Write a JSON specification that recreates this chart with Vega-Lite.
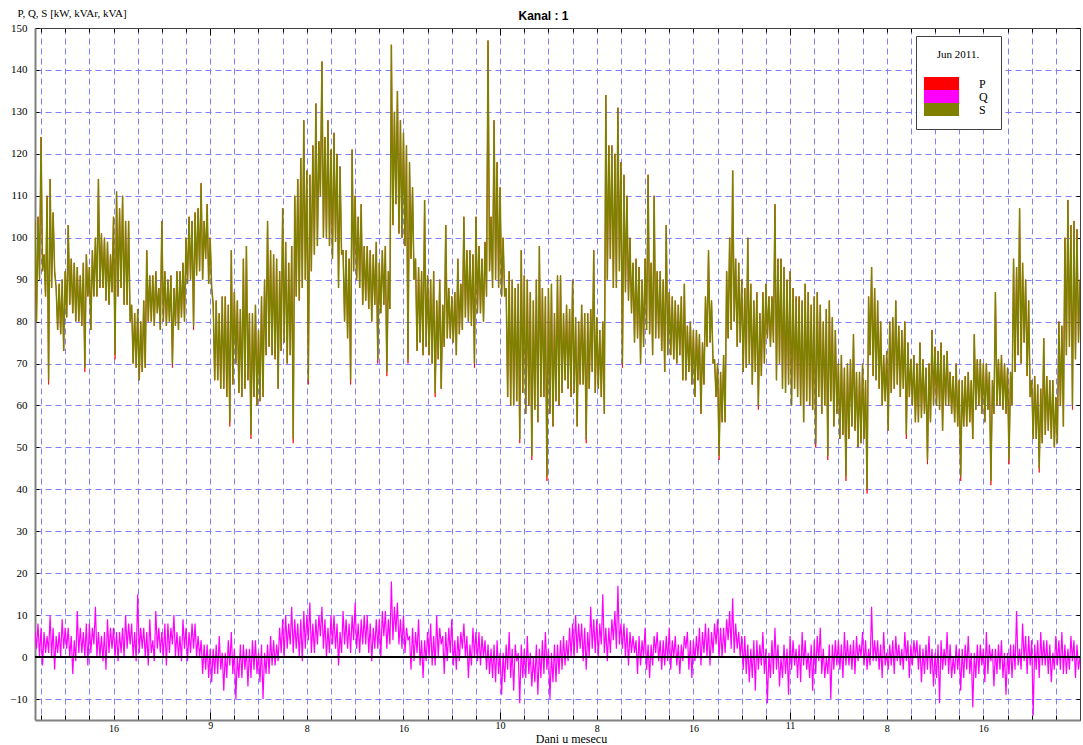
{
"$schema": "https://vega.github.io/schema/vega-lite/v6.json",
"width": 1045, "height": 692,
"autosize": "none",
"padding": {"left": 35, "top": 28, "right": 3, "bottom": 25},
"background": "white",
"title": {"text": "Kanal : 1", "font": "Liberation Sans", "fontSize": 12, "fontWeight": "bold", "anchor": "middle", "dx": -14, "offset": 0, "dy": 16, "color": "black"},
"config": {"view": {"stroke": null}, "font": "Liberation Serif"},
"data": {"values": [
{"i":0,"s":104,"p":104,"q":6},{"i":1,"s":80,"p":80,"q":2},{"i":2,"s":105,"p":105,"q":8},{"i":3,"s":90,"p":90,"q":0},{"i":4,"s":124,"p":124,"q":7},{"i":5,"s":92,"p":92,"q":-2},{"i":6,"s":96,"p":96,"q":6},{"i":7,"s":86,"p":86,"q":1},{"i":8,"s":110,"p":110,"q":5},{"i":9,"s":66,"p":65,"q":1},
{"i":10,"s":114,"p":114,"q":10},{"i":11,"s":88,"p":88,"q":0},{"i":12,"s":106,"p":106,"q":7},{"i":13,"s":92,"p":92,"q":-3},{"i":14,"s":88,"p":88,"q":5},{"i":15,"s":78,"p":78,"q":1},{"i":16,"s":89,"p":89,"q":6},{"i":17,"s":77,"p":77,"q":0},{"i":18,"s":90,"p":90,"q":9},{"i":19,"s":73,"p":73,"q":2},
{"i":20,"s":92,"p":92,"q":7},{"i":21,"s":81,"p":81,"q":2},{"i":22,"s":103,"p":103,"q":7},{"i":23,"s":84,"p":84,"q":0},{"i":24,"s":95,"p":95,"q":5},{"i":25,"s":82,"p":82,"q":-4},{"i":26,"s":94,"p":94,"q":4},{"i":27,"s":80,"p":80,"q":-1},{"i":28,"s":93,"p":93,"q":11},{"i":29,"s":80,"p":80,"q":1},
{"i":30,"s":91,"p":91,"q":7},{"i":31,"s":79,"p":79,"q":1},{"i":32,"s":94,"p":94,"q":6},{"i":33,"s":69,"p":68,"q":0},{"i":34,"s":96,"p":96,"q":8},{"i":35,"s":86,"p":86,"q":-2},{"i":36,"s":93,"p":93,"q":8},{"i":37,"s":78,"p":78,"q":1},{"i":38,"s":97,"p":97,"q":7},{"i":39,"s":86,"p":86,"q":3},
{"i":40,"s":100,"p":100,"q":12},{"i":41,"s":86,"p":86,"q":0},{"i":42,"s":114,"p":114,"q":6},{"i":43,"s":88,"p":88,"q":0},{"i":44,"s":101,"p":101,"q":5},{"i":45,"s":88,"p":88,"q":-1},{"i":46,"s":100,"p":100,"q":6},{"i":47,"s":85,"p":85,"q":-3},{"i":48,"s":99,"p":99,"q":9},{"i":49,"s":84,"p":84,"q":1},
{"i":50,"s":96,"p":96,"q":7},{"i":51,"s":87,"p":87,"q":2},{"i":52,"s":105,"p":105,"q":7},{"i":53,"s":72,"p":71,"q":0},{"i":54,"s":111,"p":111,"q":6},{"i":55,"s":86,"p":86,"q":-1},{"i":56,"s":107,"p":107,"q":6},{"i":57,"s":88,"p":88,"q":1},{"i":58,"s":110,"p":110,"q":7},{"i":59,"s":84,"p":84,"q":0},
{"i":60,"s":104,"p":104,"q":10},{"i":61,"s":84,"p":84,"q":2},{"i":62,"s":104,"p":104,"q":8},{"i":63,"s":80,"p":80,"q":3},{"i":64,"s":84,"p":84,"q":8},{"i":65,"s":70,"p":70,"q":0},{"i":66,"s":82,"p":82,"q":6},{"i":67,"s":69,"p":69,"q":-1},{"i":68,"s":83,"p":83,"q":15},{"i":69,"s":66,"p":66,"q":1},
{"i":70,"s":80,"p":80,"q":7},{"i":71,"s":68,"p":68,"q":2},{"i":72,"s":85,"p":85,"q":7},{"i":73,"s":69,"p":69,"q":0},{"i":74,"s":97,"p":97,"q":6},{"i":75,"s":80,"p":80,"q":-2},{"i":76,"s":91,"p":91,"q":9},{"i":77,"s":80,"p":80,"q":1},{"i":78,"s":91,"p":91,"q":4},{"i":79,"s":79,"p":79,"q":-1},
{"i":80,"s":92,"p":92,"q":11},{"i":81,"s":82,"p":82,"q":2},{"i":82,"s":88,"p":88,"q":7},{"i":83,"s":78,"p":78,"q":1},{"i":84,"s":104,"p":104,"q":6},{"i":85,"s":80,"p":80,"q":0},{"i":86,"s":92,"p":92,"q":8},{"i":87,"s":79,"p":79,"q":-2},{"i":88,"s":90,"p":90,"q":8},{"i":89,"s":80,"p":80,"q":1},
{"i":90,"s":91,"p":91,"q":7},{"i":91,"s":70,"p":69,"q":3},{"i":92,"s":88,"p":88,"q":10},{"i":93,"s":79,"p":79,"q":0},{"i":94,"s":92,"p":92,"q":6},{"i":95,"s":78,"p":78,"q":0},{"i":96,"s":92,"p":92,"q":5},{"i":97,"s":81,"p":81,"q":-1},{"i":98,"s":94,"p":94,"q":9},{"i":99,"s":80,"p":80,"q":2},
{"i":100,"s":100,"p":100,"q":7},{"i":101,"s":89,"p":89,"q":-1},{"i":102,"s":105,"p":105,"q":6},{"i":103,"s":90,"p":90,"q":1},{"i":104,"s":104,"p":104,"q":8},{"i":105,"s":79,"p":78,"q":2},{"i":106,"s":106,"p":106,"q":8},{"i":107,"s":91,"p":91,"q":0},{"i":108,"s":107,"p":107,"q":5},{"i":109,"s":92,"p":92,"q":0},
{"i":110,"s":113,"p":113,"q":4},{"i":111,"s":90,"p":90,"q":-4},{"i":112,"s":104,"p":104,"q":3},{"i":113,"s":95,"p":95,"q":-3},{"i":114,"s":108,"p":108,"q":3},{"i":115,"s":89,"p":89,"q":-5},{"i":116,"s":100,"p":100,"q":2},{"i":117,"s":88,"p":88,"q":-6},{"i":118,"s":84,"p":84,"q":2},{"i":119,"s":66,"p":66,"q":-4},
{"i":120,"s":85,"p":85,"q":3},{"i":121,"s":66,"p":66,"q":-4},{"i":122,"s":82,"p":82,"q":5},{"i":123,"s":64,"p":64,"q":-3},{"i":124,"s":86,"p":86,"q":1},{"i":125,"s":64,"p":64,"q":-8},{"i":126,"s":86,"p":86,"q":1},{"i":127,"s":62,"p":62,"q":-5},{"i":128,"s":84,"p":84,"q":4},{"i":129,"s":56,"p":55,"q":-2},
{"i":130,"s":97,"p":97,"q":6},{"i":131,"s":65,"p":65,"q":-4},{"i":132,"s":87,"p":87,"q":2},{"i":133,"s":70,"p":70,"q":-10},{"i":134,"s":85,"p":85,"q":0},{"i":135,"s":63,"p":63,"q":-5},{"i":136,"s":83,"p":83,"q":3},{"i":137,"s":62,"p":62,"q":-5},{"i":138,"s":95,"p":95,"q":3},{"i":139,"s":64,"p":64,"q":-3},
{"i":140,"s":98,"p":98,"q":2},{"i":141,"s":66,"p":66,"q":-7},{"i":142,"s":82,"p":82,"q":2},{"i":143,"s":53,"p":52,"q":-5},{"i":144,"s":82,"p":82,"q":4},{"i":145,"s":62,"p":62,"q":-3},{"i":146,"s":84,"p":84,"q":4},{"i":147,"s":60,"p":60,"q":-4},{"i":148,"s":78,"p":78,"q":1},{"i":149,"s":61,"p":61,"q":-6},
{"i":150,"s":86,"p":86,"q":3},{"i":151,"s":62,"p":62,"q":-10},{"i":152,"s":90,"p":90,"q":1},{"i":153,"s":72,"p":72,"q":-4},{"i":154,"s":104,"p":104,"q":3},{"i":155,"s":74,"p":74,"q":-4},{"i":156,"s":97,"p":97,"q":5},{"i":157,"s":72,"p":72,"q":-2},{"i":158,"s":96,"p":96,"q":4},{"i":159,"s":71,"p":71,"q":-2},
{"i":160,"s":95,"p":95,"q":3},{"i":161,"s":64,"p":64,"q":-1},{"i":162,"s":92,"p":92,"q":7},{"i":163,"s":73,"p":73,"q":1},{"i":164,"s":107,"p":107,"q":9},{"i":165,"s":75,"p":75,"q":0},{"i":166,"s":99,"p":99,"q":10},{"i":167,"s":70,"p":70,"q":2},{"i":168,"s":94,"p":94,"q":8},{"i":169,"s":72,"p":72,"q":3},
{"i":170,"s":98,"p":98,"q":12},{"i":171,"s":52,"p":51,"q":1},{"i":172,"s":110,"p":110,"q":9},{"i":173,"s":86,"p":86,"q":2},{"i":174,"s":114,"p":114,"q":8},{"i":175,"s":85,"p":85,"q":0},{"i":176,"s":119,"p":119,"q":9},{"i":177,"s":88,"p":88,"q":-1},{"i":178,"s":128,"p":128,"q":11},{"i":179,"s":90,"p":90,"q":2},
{"i":180,"s":116,"p":116,"q":10},{"i":181,"s":66,"p":65,"q":4},{"i":182,"s":115,"p":115,"q":13},{"i":183,"s":92,"p":92,"q":1},{"i":184,"s":122,"p":122,"q":8},{"i":185,"s":96,"p":96,"q":1},{"i":186,"s":132,"p":132,"q":9},{"i":187,"s":98,"p":98,"q":3},{"i":188,"s":123,"p":123,"q":10},{"i":189,"s":110,"p":110,"q":5},
{"i":190,"s":142,"p":142,"q":12},{"i":191,"s":100,"p":100,"q":2},{"i":192,"s":124,"p":124,"q":9},{"i":193,"s":100,"p":100,"q":0},{"i":194,"s":128,"p":128,"q":7},{"i":195,"s":98,"p":98,"q":1},{"i":196,"s":121,"p":121,"q":10},{"i":197,"s":95,"p":95,"q":3},{"i":198,"s":125,"p":125,"q":10},{"i":199,"s":99,"p":99,"q":2},
{"i":200,"s":120,"p":120,"q":8},{"i":201,"s":88,"p":88,"q":-2},{"i":202,"s":117,"p":117,"q":6},{"i":203,"s":96,"p":96,"q":1},{"i":204,"s":97,"p":97,"q":11},{"i":205,"s":80,"p":80,"q":3},{"i":206,"s":97,"p":97,"q":9},{"i":207,"s":76,"p":76,"q":2},{"i":208,"s":95,"p":95,"q":8},{"i":209,"s":66,"p":65,"q":1},
{"i":210,"s":121,"p":121,"q":10},{"i":211,"s":92,"p":92,"q":4},{"i":212,"s":110,"p":110,"q":13},{"i":213,"s":90,"p":90,"q":2},{"i":214,"s":105,"p":105,"q":8},{"i":215,"s":88,"p":88,"q":1},{"i":216,"s":108,"p":108,"q":9},{"i":217,"s":84,"p":84,"q":3},{"i":218,"s":98,"p":98,"q":10},{"i":219,"s":85,"p":85,"q":3},
{"i":220,"s":98,"p":98,"q":10},{"i":221,"s":83,"p":83,"q":1},{"i":222,"s":97,"p":97,"q":8},{"i":223,"s":80,"p":80,"q":-1},{"i":224,"s":96,"p":96,"q":7},{"i":225,"s":84,"p":84,"q":2},{"i":226,"s":99,"p":99,"q":9},{"i":227,"s":71,"p":70,"q":2},{"i":228,"s":94,"p":94,"q":9},{"i":229,"s":82,"p":82,"q":0},
{"i":230,"s":97,"p":97,"q":11},{"i":231,"s":84,"p":84,"q":5},{"i":232,"s":98,"p":98,"q":11},{"i":233,"s":68,"p":67,"q":2},{"i":234,"s":92,"p":92,"q":9},{"i":235,"s":83,"p":83,"q":3},{"i":236,"s":146,"p":146,"q":18},{"i":237,"s":103,"p":103,"q":4},{"i":238,"s":130,"p":130,"q":12},{"i":239,"s":108,"p":108,"q":6},
{"i":240,"s":135,"p":135,"q":13},{"i":241,"s":101,"p":101,"q":3},{"i":242,"s":128,"p":128,"q":9},{"i":243,"s":100,"p":100,"q":2},{"i":244,"s":125,"p":125,"q":10},{"i":245,"s":98,"p":98,"q":1},{"i":246,"s":122,"p":122,"q":7},{"i":247,"s":71,"p":70,"q":4},{"i":248,"s":118,"p":118,"q":5},{"i":249,"s":95,"p":95,"q":-3},
{"i":250,"s":112,"p":112,"q":7},{"i":251,"s":90,"p":90,"q":-1},{"i":252,"s":95,"p":95,"q":6},{"i":253,"s":73,"p":73,"q":1},{"i":254,"s":93,"p":93,"q":9},{"i":255,"s":75,"p":75,"q":-2},{"i":256,"s":92,"p":92,"q":4},{"i":257,"s":72,"p":72,"q":-5},{"i":258,"s":109,"p":109,"q":4},{"i":259,"s":74,"p":74,"q":-1},
{"i":260,"s":91,"p":91,"q":6},{"i":261,"s":72,"p":72,"q":0},{"i":262,"s":90,"p":90,"q":8},{"i":263,"s":70,"p":70,"q":-2},{"i":264,"s":92,"p":92,"q":5},{"i":265,"s":63,"p":62,"q":-2},{"i":266,"s":85,"p":85,"q":10},{"i":267,"s":71,"p":71,"q":0},{"i":268,"s":90,"p":90,"q":7},{"i":269,"s":64,"p":64,"q":3},
{"i":270,"s":84,"p":84,"q":5},{"i":271,"s":74,"p":74,"q":-4},{"i":272,"s":103,"p":103,"q":6},{"i":273,"s":76,"p":76,"q":-1},{"i":274,"s":88,"p":88,"q":7},{"i":275,"s":76,"p":76,"q":1},{"i":276,"s":86,"p":86,"q":9},{"i":277,"s":75,"p":75,"q":-2},{"i":278,"s":87,"p":87,"q":4},{"i":279,"s":72,"p":72,"q":-3},
{"i":280,"s":95,"p":95,"q":5},{"i":281,"s":77,"p":77,"q":-1},{"i":282,"s":89,"p":89,"q":6},{"i":283,"s":78,"p":78,"q":2},{"i":284,"s":105,"p":105,"q":8},{"i":285,"s":81,"p":81,"q":0},{"i":286,"s":97,"p":97,"q":5},{"i":287,"s":80,"p":80,"q":-5},{"i":288,"s":97,"p":97,"q":3},{"i":289,"s":79,"p":79,"q":-2},
{"i":290,"s":96,"p":96,"q":7},{"i":291,"s":70,"p":69,"q":0},{"i":292,"s":105,"p":105,"q":6},{"i":293,"s":82,"p":82,"q":-1},{"i":294,"s":98,"p":98,"q":6},{"i":295,"s":82,"p":82,"q":-2},{"i":296,"s":95,"p":95,"q":5},{"i":297,"s":80,"p":80,"q":0},{"i":298,"s":99,"p":99,"q":4},{"i":299,"s":86,"p":86,"q":-3},
{"i":300,"s":147,"p":147,"q":3},{"i":301,"s":92,"p":92,"q":-4},{"i":302,"s":105,"p":105,"q":2},{"i":303,"s":88,"p":88,"q":-5},{"i":304,"s":128,"p":128,"q":3},{"i":305,"s":90,"p":90,"q":-6},{"i":306,"s":118,"p":118,"q":4},{"i":307,"s":88,"p":88,"q":-4},{"i":308,"s":112,"p":112,"q":1},{"i":309,"s":86,"p":86,"q":-9},
{"i":310,"s":100,"p":100,"q":1},{"i":311,"s":86,"p":86,"q":-6},{"i":312,"s":88,"p":88,"q":3},{"i":313,"s":62,"p":62,"q":-3},{"i":314,"s":92,"p":92,"q":6},{"i":315,"s":60,"p":60,"q":-5},{"i":316,"s":90,"p":90,"q":2},{"i":317,"s":60,"p":60,"q":-8},{"i":318,"s":88,"p":88,"q":3},{"i":319,"s":61,"p":61,"q":-1},
{"i":320,"s":89,"p":89,"q":1},{"i":321,"s":52,"p":51,"q":-11},{"i":322,"s":97,"p":97,"q":3},{"i":323,"s":63,"p":63,"q":-5},{"i":324,"s":91,"p":91,"q":2},{"i":325,"s":58,"p":58,"q":-5},{"i":326,"s":90,"p":90,"q":5},{"i":327,"s":60,"p":60,"q":-4},{"i":328,"s":87,"p":87,"q":1},{"i":329,"s":48,"p":47,"q":-7},
{"i":330,"s":85,"p":85,"q":0},{"i":331,"s":59,"p":59,"q":-6},{"i":332,"s":90,"p":90,"q":3},{"i":333,"s":56,"p":56,"q":-9},{"i":334,"s":98,"p":98,"q":2},{"i":335,"s":62,"p":62,"q":-5},{"i":336,"s":88,"p":88,"q":4},{"i":337,"s":62,"p":62,"q":-4},{"i":338,"s":86,"p":86,"q":6},{"i":339,"s":43,"p":42,"q":-3},
{"i":340,"s":88,"p":88,"q":2},{"i":341,"s":58,"p":58,"q":-10},{"i":342,"s":89,"p":89,"q":1},{"i":343,"s":55,"p":55,"q":-6},{"i":344,"s":82,"p":82,"q":3},{"i":345,"s":61,"p":61,"q":-6},{"i":346,"s":91,"p":91,"q":3},{"i":347,"s":60,"p":60,"q":-4},{"i":348,"s":91,"p":91,"q":4},{"i":349,"s":63,"p":63,"q":-3},
{"i":350,"s":82,"p":82,"q":5},{"i":351,"s":66,"p":66,"q":-2},{"i":352,"s":84,"p":84,"q":4},{"i":353,"s":64,"p":64,"q":-1},{"i":354,"s":83,"p":83,"q":7},{"i":355,"s":62,"p":62,"q":0},{"i":356,"s":90,"p":90,"q":8},{"i":357,"s":63,"p":63,"q":0},{"i":358,"s":81,"p":81,"q":10},{"i":359,"s":55,"p":55,"q":1},
{"i":360,"s":80,"p":80,"q":8},{"i":361,"s":65,"p":65,"q":2},{"i":362,"s":84,"p":84,"q":8},{"i":363,"s":65,"p":65,"q":-1},{"i":364,"s":82,"p":82,"q":7},{"i":365,"s":52,"p":51,"q":-3},{"i":366,"s":82,"p":82,"q":6},{"i":367,"s":64,"p":64,"q":0},{"i":368,"s":83,"p":83,"q":12},{"i":369,"s":68,"p":68,"q":2},
{"i":370,"s":97,"p":97,"q":9},{"i":371,"s":63,"p":63,"q":1},{"i":372,"s":81,"p":81,"q":9},{"i":373,"s":64,"p":64,"q":0},{"i":374,"s":78,"p":78,"q":8},{"i":375,"s":62,"p":62,"q":3},{"i":376,"s":80,"p":80,"q":15},{"i":377,"s":58,"p":58,"q":1},{"i":378,"s":134,"p":134,"q":7},{"i":379,"s":90,"p":90,"q":-1},
{"i":380,"s":122,"p":122,"q":7},{"i":381,"s":95,"p":95,"q":1},{"i":382,"s":122,"p":122,"q":9},{"i":383,"s":88,"p":88,"q":4},{"i":384,"s":120,"p":120,"q":11},{"i":385,"s":88,"p":88,"q":2},{"i":386,"s":131,"p":131,"q":17},{"i":387,"s":92,"p":92,"q":3},{"i":388,"s":118,"p":118,"q":8},{"i":389,"s":70,"p":69,"q":2},
{"i":390,"s":115,"p":115,"q":8},{"i":391,"s":87,"p":87,"q":0},{"i":392,"s":110,"p":110,"q":7},{"i":393,"s":85,"p":85,"q":-2},{"i":394,"s":100,"p":100,"q":6},{"i":395,"s":82,"p":82,"q":1},{"i":396,"s":94,"p":94,"q":5},{"i":397,"s":75,"p":75,"q":1},{"i":398,"s":95,"p":95,"q":4},{"i":399,"s":76,"p":76,"q":-4},
{"i":400,"s":93,"p":93,"q":5},{"i":401,"s":70,"p":70,"q":-2},{"i":402,"s":90,"p":90,"q":4},{"i":403,"s":74,"p":74,"q":0},{"i":404,"s":95,"p":95,"q":7},{"i":405,"s":78,"p":78,"q":-3},{"i":406,"s":115,"p":115,"q":3},{"i":407,"s":77,"p":77,"q":-5},{"i":408,"s":94,"p":94,"q":3},{"i":409,"s":72,"p":72,"q":-2},
{"i":410,"s":110,"p":110,"q":5},{"i":411,"s":76,"p":76,"q":1},{"i":412,"s":92,"p":92,"q":6},{"i":413,"s":76,"p":76,"q":-1},{"i":414,"s":92,"p":92,"q":4},{"i":415,"s":73,"p":73,"q":-3},{"i":416,"s":90,"p":90,"q":4},{"i":417,"s":68,"p":68,"q":-2},{"i":418,"s":103,"p":103,"q":5},{"i":419,"s":72,"p":72,"q":-1},
{"i":420,"s":87,"p":87,"q":7},{"i":421,"s":72,"p":72,"q":-3},{"i":422,"s":86,"p":86,"q":4},{"i":423,"s":71,"p":71,"q":0},{"i":424,"s":85,"p":85,"q":5},{"i":425,"s":70,"p":70,"q":-2},{"i":426,"s":84,"p":84,"q":3},{"i":427,"s":72,"p":72,"q":-4},{"i":428,"s":86,"p":86,"q":3},{"i":429,"s":66,"p":66,"q":-1},
{"i":430,"s":89,"p":89,"q":5},{"i":431,"s":66,"p":66,"q":2},{"i":432,"s":79,"p":79,"q":6},{"i":433,"s":68,"p":68,"q":-3},{"i":434,"s":80,"p":80,"q":4},{"i":435,"s":65,"p":65,"q":-5},{"i":436,"s":78,"p":78,"q":4},{"i":437,"s":62,"p":62,"q":-1},{"i":438,"s":78,"p":78,"q":5},{"i":439,"s":66,"p":66,"q":0},
{"i":440,"s":77,"p":77,"q":7},{"i":441,"s":58,"p":58,"q":-2},{"i":442,"s":75,"p":75,"q":6},{"i":443,"s":65,"p":65,"q":1},{"i":444,"s":86,"p":86,"q":8},{"i":445,"s":74,"p":74,"q":0},{"i":446,"s":97,"p":97,"q":7},{"i":447,"s":75,"p":75,"q":-2},{"i":448,"s":85,"p":85,"q":6},{"i":449,"s":70,"p":70,"q":1},
{"i":450,"s":71,"p":71,"q":8},{"i":451,"s":62,"p":62,"q":3},{"i":452,"s":70,"p":70,"q":9},{"i":453,"s":48,"p":47,"q":0},{"i":454,"s":68,"p":68,"q":7},{"i":455,"s":56,"p":56,"q":0},{"i":456,"s":72,"p":72,"q":7},{"i":457,"s":56,"p":56,"q":1},{"i":458,"s":92,"p":92,"q":9},{"i":459,"s":76,"p":76,"q":4},
{"i":460,"s":100,"p":100,"q":11},{"i":461,"s":78,"p":78,"q":2},{"i":462,"s":116,"p":116,"q":14},{"i":463,"s":80,"p":80,"q":1},{"i":464,"s":95,"p":95,"q":8},{"i":465,"s":74,"p":74,"q":2},{"i":466,"s":94,"p":94,"q":6},{"i":467,"s":75,"p":75,"q":0},{"i":468,"s":90,"p":90,"q":5},{"i":469,"s":68,"p":68,"q":-3},
{"i":470,"s":88,"p":88,"q":5},{"i":471,"s":69,"p":69,"q":-4},{"i":472,"s":100,"p":100,"q":3},{"i":473,"s":70,"p":70,"q":-6},{"i":474,"s":89,"p":89,"q":2},{"i":475,"s":65,"p":65,"q":-5},{"i":476,"s":85,"p":85,"q":4},{"i":477,"s":68,"p":68,"q":-8},{"i":478,"s":87,"p":87,"q":4},{"i":479,"s":60,"p":59,"q":-3},
{"i":480,"s":82,"p":82,"q":3},{"i":481,"s":67,"p":67,"q":-2},{"i":482,"s":87,"p":87,"q":6},{"i":483,"s":70,"p":70,"q":-4},{"i":484,"s":89,"p":89,"q":2},{"i":485,"s":76,"p":76,"q":-11},{"i":486,"s":86,"p":86,"q":1},{"i":487,"s":74,"p":74,"q":-5},{"i":488,"s":86,"p":86,"q":4},{"i":489,"s":75,"p":75,"q":-4},
{"i":490,"s":108,"p":108,"q":7},{"i":491,"s":66,"p":66,"q":-3},{"i":492,"s":95,"p":95,"q":3},{"i":493,"s":70,"p":70,"q":-7},{"i":494,"s":95,"p":95,"q":0},{"i":495,"s":64,"p":64,"q":-5},{"i":496,"s":93,"p":93,"q":3},{"i":497,"s":63,"p":63,"q":-4},{"i":498,"s":90,"p":90,"q":2},{"i":499,"s":65,"p":65,"q":-9},
{"i":500,"s":92,"p":92,"q":5},{"i":501,"s":60,"p":60,"q":-3},{"i":502,"s":88,"p":88,"q":4},{"i":503,"s":64,"p":64,"q":-2},{"i":504,"s":86,"p":86,"q":2},{"i":505,"s":62,"p":62,"q":-5},{"i":506,"s":86,"p":86,"q":3},{"i":507,"s":60,"p":60,"q":-6},{"i":508,"s":85,"p":85,"q":6},{"i":509,"s":56,"p":56,"q":-2},
{"i":510,"s":89,"p":89,"q":4},{"i":511,"s":61,"p":61,"q":-3},{"i":512,"s":87,"p":87,"q":1},{"i":513,"s":60,"p":60,"q":-5},{"i":514,"s":84,"p":84,"q":3},{"i":515,"s":59,"p":59,"q":-8},{"i":516,"s":86,"p":86,"q":4},{"i":517,"s":51,"p":50,"q":-4},{"i":518,"s":87,"p":87,"q":5},{"i":519,"s":62,"p":62,"q":-1},
{"i":520,"s":84,"p":84,"q":7},{"i":521,"s":58,"p":58,"q":-4},{"i":522,"s":80,"p":80,"q":2},{"i":523,"s":60,"p":60,"q":-5},{"i":524,"s":83,"p":83,"q":0},{"i":525,"s":48,"p":47,"q":-4},{"i":526,"s":85,"p":85,"q":3},{"i":527,"s":61,"p":61,"q":-10},{"i":528,"s":81,"p":81,"q":3},{"i":529,"s":55,"p":55,"q":-3},
{"i":530,"s":78,"p":78,"q":4},{"i":531,"s":58,"p":58,"q":-2},{"i":532,"s":70,"p":70,"q":4},{"i":533,"s":52,"p":52,"q":-3},{"i":534,"s":72,"p":72,"q":3},{"i":535,"s":53,"p":53,"q":-5},{"i":536,"s":69,"p":69,"q":6},{"i":537,"s":43,"p":42,"q":-2},{"i":538,"s":70,"p":70,"q":4},{"i":539,"s":52,"p":52,"q":-2},
{"i":540,"s":71,"p":71,"q":3},{"i":541,"s":55,"p":55,"q":-3},{"i":542,"s":77,"p":77,"q":4},{"i":543,"s":54,"p":54,"q":-4},{"i":544,"s":68,"p":68,"q":5},{"i":545,"s":50,"p":50,"q":-1},{"i":546,"s":68,"p":68,"q":3},{"i":547,"s":51,"p":51,"q":0},{"i":548,"s":70,"p":70,"q":6},{"i":549,"s":52,"p":52,"q":-2},
{"i":550,"s":66,"p":66,"q":4},{"i":551,"s":40,"p":39,"q":-3},{"i":552,"s":86,"p":86,"q":2},{"i":553,"s":72,"p":72,"q":-2},{"i":554,"s":93,"p":93,"q":12},{"i":555,"s":67,"p":67,"q":-1},{"i":556,"s":88,"p":88,"q":4},{"i":557,"s":66,"p":66,"q":-1},{"i":558,"s":85,"p":85,"q":4},{"i":559,"s":64,"p":64,"q":-3},
{"i":560,"s":80,"p":80,"q":3},{"i":561,"s":60,"p":60,"q":-5},{"i":562,"s":72,"p":72,"q":6},{"i":563,"s":61,"p":61,"q":-2},{"i":564,"s":73,"p":73,"q":1},{"i":565,"s":54,"p":54,"q":-3},{"i":566,"s":80,"p":80,"q":3},{"i":567,"s":63,"p":63,"q":-2},{"i":568,"s":81,"p":81,"q":4},{"i":569,"s":64,"p":64,"q":-4},
{"i":570,"s":85,"p":85,"q":5},{"i":571,"s":65,"p":65,"q":-1},{"i":572,"s":79,"p":79,"q":3},{"i":573,"s":62,"p":62,"q":-2},{"i":574,"s":78,"p":78,"q":2},{"i":575,"s":64,"p":64,"q":-3},{"i":576,"s":80,"p":80,"q":6},{"i":577,"s":53,"p":52,"q":-1},{"i":578,"s":75,"p":75,"q":4},{"i":579,"s":62,"p":62,"q":-5},
{"i":580,"s":71,"p":71,"q":3},{"i":581,"s":60,"p":60,"q":-2},{"i":582,"s":72,"p":72,"q":4},{"i":583,"s":56,"p":56,"q":0},{"i":584,"s":70,"p":70,"q":4},{"i":585,"s":56,"p":56,"q":-3},{"i":586,"s":75,"p":75,"q":3},{"i":587,"s":57,"p":57,"q":-6},{"i":588,"s":71,"p":71,"q":2},{"i":589,"s":58,"p":58,"q":-4},
{"i":590,"s":69,"p":69,"q":3},{"i":591,"s":47,"p":46,"q":-3},{"i":592,"s":70,"p":70,"q":5},{"i":593,"s":56,"p":56,"q":-4},{"i":594,"s":78,"p":78,"q":2},{"i":595,"s":60,"p":60,"q":-7},{"i":596,"s":74,"p":74,"q":1},{"i":597,"s":60,"p":60,"q":-5},{"i":598,"s":73,"p":73,"q":3},{"i":599,"s":59,"p":59,"q":-11},
{"i":600,"s":75,"p":75,"q":4},{"i":601,"s":54,"p":54,"q":-3},{"i":602,"s":72,"p":72,"q":2},{"i":603,"s":60,"p":60,"q":-2},{"i":604,"s":73,"p":73,"q":6},{"i":605,"s":60,"p":60,"q":-4},{"i":606,"s":68,"p":68,"q":3},{"i":607,"s":58,"p":58,"q":-5},{"i":608,"s":67,"p":67,"q":0},{"i":609,"s":56,"p":56,"q":-4},
{"i":610,"s":70,"p":70,"q":3},{"i":611,"s":55,"p":55,"q":-3},{"i":612,"s":66,"p":66,"q":2},{"i":613,"s":43,"p":42,"q":-8},{"i":614,"s":66,"p":66,"q":2},{"i":615,"s":55,"p":55,"q":-5},{"i":616,"s":67,"p":67,"q":3},{"i":617,"s":55,"p":55,"q":-3},{"i":618,"s":68,"p":68,"q":5},{"i":619,"s":56,"p":56,"q":-4},
{"i":620,"s":66,"p":66,"q":1},{"i":621,"s":52,"p":52,"q":-12},{"i":622,"s":77,"p":77,"q":1},{"i":623,"s":59,"p":59,"q":-5},{"i":624,"s":71,"p":71,"q":3},{"i":625,"s":60,"p":60,"q":-4},{"i":626,"s":71,"p":71,"q":3},{"i":627,"s":58,"p":58,"q":-2},{"i":628,"s":70,"p":70,"q":2},{"i":629,"s":56,"p":56,"q":-6},
{"i":630,"s":70,"p":70,"q":6},{"i":631,"s":59,"p":59,"q":-4},{"i":632,"s":68,"p":68,"q":3},{"i":633,"s":42,"p":41,"q":-1},{"i":634,"s":66,"p":66,"q":2},{"i":635,"s":58,"p":58,"q":-7},{"i":636,"s":87,"p":87,"q":2},{"i":637,"s":60,"p":60,"q":-4},{"i":638,"s":71,"p":71,"q":3},{"i":639,"s":60,"p":60,"q":-3},
{"i":640,"s":72,"p":72,"q":4},{"i":641,"s":59,"p":59,"q":-5},{"i":642,"s":70,"p":70,"q":1},{"i":643,"s":58,"p":58,"q":-9},{"i":644,"s":69,"p":69,"q":1},{"i":645,"s":47,"p":46,"q":-4},{"i":646,"s":68,"p":68,"q":3},{"i":647,"s":60,"p":60,"q":-5},{"i":648,"s":95,"p":95,"q":3},{"i":649,"s":68,"p":68,"q":-3},
{"i":650,"s":93,"p":93,"q":11},{"i":651,"s":72,"p":72,"q":-2},{"i":652,"s":107,"p":107,"q":2},{"i":653,"s":70,"p":70,"q":-3},{"i":654,"s":94,"p":94,"q":8},{"i":655,"s":75,"p":75,"q":-1},{"i":656,"s":90,"p":90,"q":5},{"i":657,"s":67,"p":67,"q":-4},{"i":658,"s":85,"p":85,"q":5},{"i":659,"s":62,"p":62,"q":-2},
{"i":660,"s":66,"p":66,"q":4},{"i":661,"s":52,"p":52,"q":-14},{"i":662,"s":67,"p":67,"q":3},{"i":663,"s":52,"p":52,"q":-3},{"i":664,"s":65,"p":65,"q":4},{"i":665,"s":45,"p":44,"q":-5},{"i":666,"s":64,"p":64,"q":6},{"i":667,"s":51,"p":51,"q":-2},{"i":668,"s":76,"p":76,"q":4},{"i":669,"s":53,"p":53,"q":-2},
{"i":670,"s":67,"p":67,"q":4},{"i":671,"s":54,"p":54,"q":-4},{"i":672,"s":66,"p":66,"q":3},{"i":673,"s":52,"p":52,"q":-6},{"i":674,"s":66,"p":66,"q":1},{"i":675,"s":50,"p":50,"q":-3},{"i":676,"s":62,"p":62,"q":5},{"i":677,"s":51,"p":51,"q":-2},{"i":678,"s":80,"p":80,"q":4},{"i":679,"s":60,"p":60,"q":-3},
{"i":680,"s":79,"p":79,"q":6},{"i":681,"s":55,"p":55,"q":-4},{"i":682,"s":100,"p":100,"q":3},{"i":683,"s":72,"p":72,"q":-4},{"i":684,"s":109,"p":109,"q":2},{"i":685,"s":74,"p":74,"q":-3},{"i":686,"s":103,"p":103,"q":5},{"i":687,"s":60,"p":59,"q":-1},{"i":688,"s":104,"p":104,"q":4},{"i":689,"s":71,"p":71,"q":-5},
{"i":690,"s":102,"p":102,"q":3},{"i":691,"s":75,"p":75,"q":-3},{"i":692,"s":90,"p":90,"q":0}
]},
"layer": [
{"mark": {"type": "line", "strokeWidth": 0.8, "strokeJoin": "bevel", "clip": true},
 "encoding": {
  "x": {"field": "i", "type": "quantitative", "scale": {"domain": [0, 692], "nice": false, "zero": false},
   "axis": {"orient": "bottom", "values": [4,20,36,52,68,84,100,116,132,148,164,180,196,212,228,244,260,276,292,308,324,340,356,372,388,404,420,436,452,468,484,500,516,532,548,564,580,596,612,628,644,660,676,692],
    "labelExpr": "datum.value > 680 ? '' : ((((datum.value-116)%192)+192)%192 == 0 ? '' + (9 + floor((datum.value-116)/192)) : ((((datum.value-116)%192)+192)%192 == 64 ? '8' : ((((datum.value-116)%192)+192)%192 == 128 ? '16' : '')))",
    "labelFont": "Liberation Serif", "labelFontSize": 10, "labelColor": "black", "labelPadding": 8, "labelOverlap": false, "labelFlush": false,
    "tickColor": "black", "tickSize": {"condition": {"test": "(((datum.value-116)%192)+192)%192 == 0", "value": -8}, "value": -5},
    "domainColor": "#808080", "domainWidth": 2,
    "grid": true, "gridColor": "#8080ff", "gridDash": [6, 4], "gridWidth": 1,
    "title": "Dani u mesecu", "titleFont": "Liberation Serif", "titleFontSize": 12, "titleFontWeight": "normal", "titleColor": "black",
    "titleX": 536, "titleY": 18, "titleBaseline": "middle", "titleAnchor": "start", "titleAlign": "center"}},
  "y": {"field": "p", "type": "quantitative", "scale": {"domain": [-15, 150], "nice": false, "zero": false},
   "axis": {"orient": "left", "values": [-10,0,10,20,30,40,50,60,70,80,90,100,110,120,130,140,150],
    "labelFont": "Liberation Serif", "labelFontSize": 11, "labelColor": "black", "labelPadding": 12, "labelOverlap": false,
    "tickColor": "black", "tickSize": -4,
    "domainColor": "#808080", "domainWidth": 2,
    "grid": true, "gridColor": "#8080ff", "gridDash": [6, 4], "gridWidth": 1,
    "title": "P, Q, S [kW, kVAr, kVA]", "titleFont": "Liberation Serif", "titleFontSize": 11, "titleFontWeight": "normal", "titleColor": "black",
    "titleAngle": 0, "titleAlign": "left", "titleBaseline": "middle", "titleX": -18, "titleY": -15}},
  "color": {"datum": "P", "type": "nominal", "scale": {"domain": ["P", "Q", "S"], "range": ["#ff0000", "#ff00ff", "#808000"]},
   "legend": {"title": "Jun 2011.", "orient": "none", "legendX": 881, "legendY": 8,
    "titleFont": "Liberation Serif", "titleFontSize": 11, "titleFontWeight": "normal", "titleColor": "black", "titlePadding": 17, "titleAnchor": "middle",
    "labelFont": "Liberation Serif", "labelFontSize": 12, "labelColor": "black", "labelOffset": 31,
    "symbolSize": 169, "symbolType": "M-2.7,-1H2.7V1H-2.7Z", "symbolOffset": 6, "symbolStrokeWidth": 0, "rowPadding": 0,
    "padding": 13, "strokeColor": "#404040", "fillColor": "white",
    "encode": {"symbols": {"update": {"fill": {"scale": "color", "field": "value"}, "stroke": {"value": "transparent"}, "opacity": {"value": 1}}}}}}
 }},
{"mark": {"type": "line", "strokeWidth": 1.2, "strokeJoin": "bevel", "clip": true},
 "encoding": {
  "x": {"field": "i", "type": "quantitative",
   "axis": {"orient": "top", "values": [4,20,36,52,68,84,100,116,132,148,164,180,196,212,228,244,260,276,292,308,324,340,356,372,388,404,420,436,452,468,484,500,516,532,548,564,580,596,612,628,644,660,676,692],
    "labels": false, "grid": false, "title": null, "tickColor": "black",
    "tickSize": {"condition": {"test": "(((datum.value-116)%192)+192)%192 == 0", "value": -7}, "value": -4},
    "domainColor": "#404040", "domainWidth": 1}},
  "y": {"field": "q", "type": "quantitative",
   "axis": {"orient": "right", "values": [-10,0,10,20,30,40,50,60,70,80,90,100,110,120,130,140,150],
    "labels": false, "grid": false, "title": null, "tickColor": "black", "tickSize": -4, "domainColor": "#404040", "domainWidth": 1}},
  "color": {"datum": "Q", "type": "nominal"}
 }},
{"mark": {"type": "line", "strokeWidth": 1.5, "strokeJoin": "bevel", "clip": true},
 "encoding": {
  "x": {"field": "i", "type": "quantitative", "axis": null},
  "y": {"field": "s", "type": "quantitative", "axis": null},
  "color": {"datum": "S", "type": "nominal"}
 }},
{"mark": {"type": "rule", "color": "black", "strokeWidth": 1},
 "encoding": {"y": {"datum": 0, "type": "quantitative", "axis": null}}}
],
"resolve": {"axis": {"x": "independent", "y": "independent"}}
}
